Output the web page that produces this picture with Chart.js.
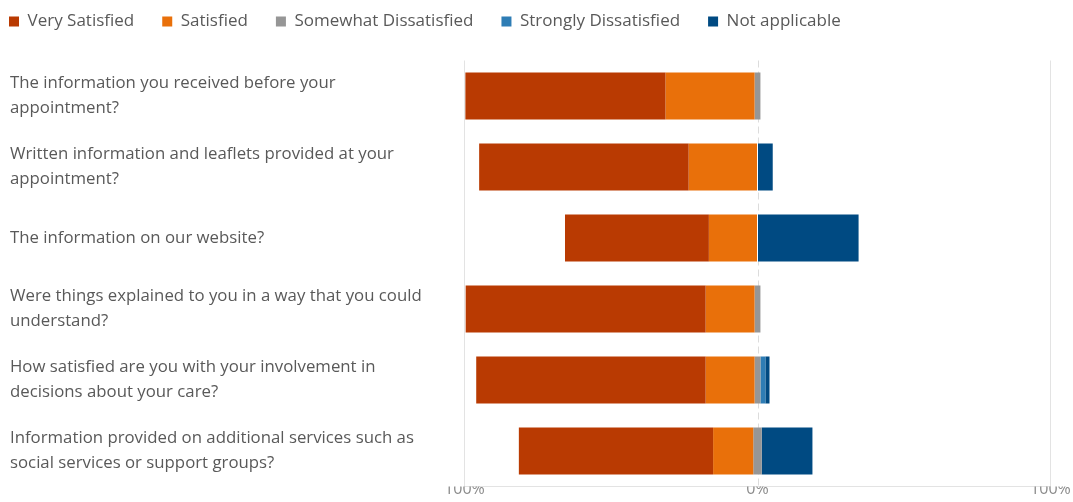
<!DOCTYPE html>
<html>
<head>
<meta charset="utf-8">
<script src="https://cdn.jsdelivr.net/npm/chart.js@4.4.1/dist/chart.umd.min.js"></script>
<style>
  html, body { margin: 0; padding: 0; background: #fff; }
</style>
</head>
<body>
<canvas id="chart_1" width="1073" height="502"></canvas>
<script>
// questions (y categories), already wrapped the way the original shows them
const questions = [
  ['The information you received before your', 'appointment?'],
  ['Written information and leaflets provided at your', 'appointment?'],
  'The information on our website?',
  ['Were things explained to you in a way that you could', 'understand?'],
  ['How satisfied are you with your involvement in', 'decisions about your care?'],
  ['Information provided on additional services such as', 'social services or support groups?']
]

const seriesNames = ['Very Satisfied', 'Satisfied', 'Somewhat Dissatisfied', 'Strongly Dissatisfied', 'Not applicable']
const seriesColors = ['#b93a02', '#e9700a', '#969696', '#2e7db5', '#004a82']

// percentages
const verySatisfied        = [68.3, 71.5, 49.1, 81.9, 78.3, 66.3]
const satisfied            = [30.4, 23.5, 16.6, 16.7, 16.7, 13.7]
const somewhatDissatisfied = [2.0, 0, 0, 2.0, 2.0, 2.9]
const stronglyDissatisfied = [0, 0, 0, 0, 1.7, 0]
const notApplicable        = [0, 5.2, 34.5, 0, 1.4, 17.3]

const tickValues = [-100, 0, 100]

const series = [verySatisfied, satisfied, somewhatDissatisfied, stronglyDissatisfied, notApplicable]

// diverging layout: satisfied answers go left of 0, "somewhat" is centred on 0
let cursor = questions.map((q, i) => -(verySatisfied[i] + satisfied[i] + somewhatDissatisfied[i] / 2))
const datasets = series.map((vals, s) => {
  const data = vals.map((v, i) => {
    const from = cursor[i]
    cursor[i] = from + v
    return v > 0 ? [from, from + v] : null
  })
  return {
    label: seriesNames[s],
    data: data,
    backgroundColor: seriesColors[s],
    borderWidth: 0
  }
})

const textColor = '#595959'
const fontFamily = '"Open Sans", "Segoe UI", sans-serif'
const legendPad = 28

// move the legend to the very top-left after the layout has been worked out
const legendShift = {
  id: 'legendShift',
  afterLayout(chart) {
    chart.legend.left = 9 - legendPad
    chart.legend.top = 13 - legendPad
  }
}

// dashed line at 0%
const zeroLine = {
  id: 'zeroLine',
  beforeDatasetsDraw(chart) {
    const {ctx, chartArea} = chart
    const x = Math.round(chart.scales.x.getPixelForValue(0)) + 0.5
    ctx.save()
    ctx.strokeStyle = '#dcdcdc'
    ctx.lineWidth = 1
    ctx.setLineDash([7, 4])
    ctx.beginPath()
    ctx.moveTo(x, chartArea.top)
    ctx.lineTo(x, chartArea.bottom)
    ctx.stroke()
    ctx.restore()
  }
}

new Chart('chart_1', {
  type: 'bar',
  data: { labels: questions, datasets: datasets },
  options: {
    indexAxis: 'y',
    responsive: false,
    animation: false,
    layout: { padding: { top: 5.5, left: 10, right: 22.5, bottom: 0 } },
    datasets: { bar: { grouped: false, barPercentage: 0.66, categoryPercentage: 1 } },
    plugins: {
      legend: {
        position: 'top',
        align: 'start',
        labels: {
          boxWidth: 10,
          boxHeight: 10,
          padding: legendPad,
          color: textColor,
          font: { family: fontFamily, size: 17 }
        }
      },
      tooltip: { enabled: false }
    },
    scales: {
      x: {
        min: -100,
        max: 100,
        afterBuildTicks: scale => { scale.ticks = tickValues.map(v => ({ value: v })) },
        ticks: {
          callback: v => Math.abs(v) + '%',
          color: '#8a8a8a',
          padding: -7,
          maxRotation: 0,
          font: { family: fontFamily, size: 16 }
        },
        grid: {
          color: c => (c.tick && c.tick.value === 0) ? 'rgba(0,0,0,0)' : '#e3e3e3',
          drawTicks: false
        },
        border: { color: '#e3e3e3' },
        afterFit: scale => { scale.height = 15.5 }
      },
      y: {
        grid: { display: false },
        border: { display: false },
        ticks: {
          crossAlign: 'far',
          autoSkip: false,
          color: textColor,
          font: { family: fontFamily, size: 16.8, lineHeight: 1.49 }
        },
        afterFit: scale => {
          scale.width = 454.5
          scale.paddingTop = 0
          scale.paddingBottom = 0
        }
      }
    }
  },
  plugins: [legendShift, zeroLine]
})
</script>
</body>
</html>
